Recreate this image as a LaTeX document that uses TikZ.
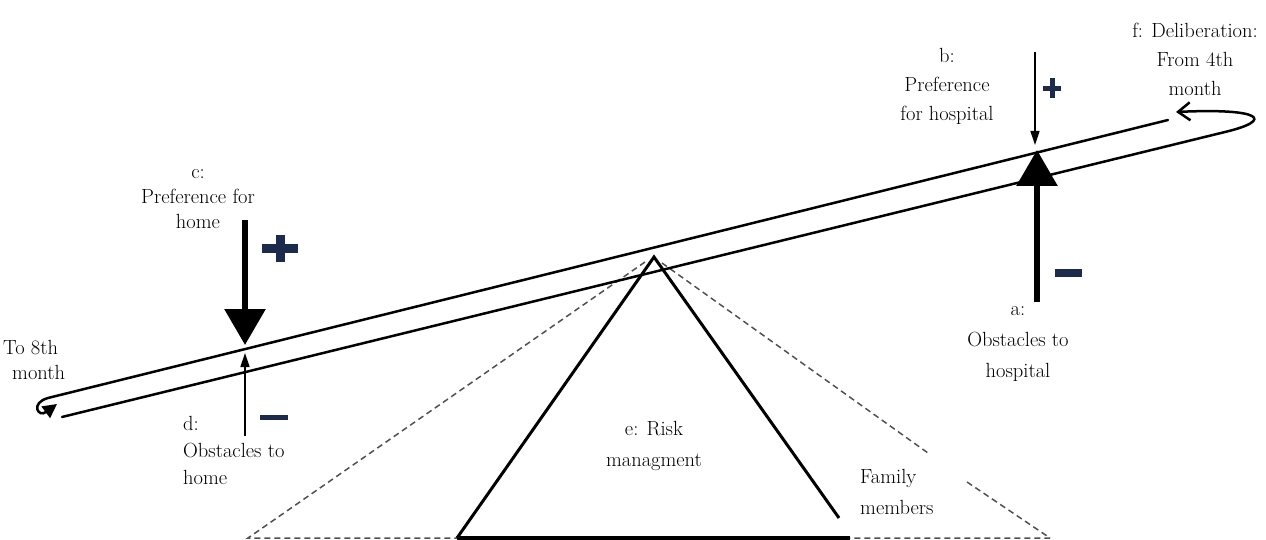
\documentclass[tikz,border=0pt]{standalone}
\usetikzlibrary{arrows.meta}
\definecolor{signblue}{HTML}{1C2B4B}
\definecolor{dashgray}{HTML}{505050}
\tikzset{
  lbl/.style={inner sep=0pt, align=center, font=\fontsize{20.5}{#1}\selectfont},
  lbl/.default=29,
  beam/.style={line width=2.5pt, line cap=round},
  tri/.style={line width=3pt, line join=miter},
  dashedline/.style={dashgray, line width=1.5pt, dash pattern=on 6pt off 4pt},
  bigarrow/.style={line width=6pt, -{Triangle[width=40pt,length=36pt]}},
  thinarrow/.style={line width=1.5pt, -{Triangle[width=9pt,length=14pt]}},
  sign/.style={fill=signblue, draw=none}
}
\begin{document}
\begin{tikzpicture}[x=1pt,y=-1pt]
\useasboundingbox (0,0) rectangle (1266,540);
% support (dashed)
\coordinate (dl) at (248,538);
\coordinate (dr) at (1050,538);
\coordinate (dapl) at (645,262);
\coordinate (dapr) at (662,263);
\draw[dashedline] (dapl) -- (dl) -- (dr);
\draw[dashedline] (dapr) -- (928,453);
\draw[dashedline] (967,482) -- (dr);
% fulcrum
\coordinate (tl) at (457,538);
\coordinate (tap) at (654,257);
\coordinate (tr) at (839,518);
\draw[line width=3.5pt] (tl) -- (850,538);
\draw[tri] (tl) -- (tap) -- (tr);
% beam
\draw[beam, -{Straight Barb[length=12pt,width=18pt]}] (62,417) -- (1225,132)
   .. controls (1275,120) and (1262,108) .. (1176,112);
\draw[beam, -{Triangle[length=14pt,width=14pt]}] (1168,120) -- (48,398)
   .. controls (30,403) and (38,418) .. (57,404);
% forces
\coordinate (cs) at (245,220); \coordinate (ct) at (245,345);
\coordinate (ds) at (245,436); \coordinate (dt) at (245,353);
\coordinate (bs) at (1035,52); \coordinate (bt) at (1035,145);
\coordinate (as) at (1037,302); \coordinate (at) at (1037,150);
\draw[bigarrow] (cs) -- (ct);
\draw[thinarrow] (ds) -- (dt);
\draw[thinarrow] (bs) -- (bt);
\draw[bigarrow] (as) -- (at);
% signs
\fill[sign] (262,244) rectangle (298,253);
\fill[sign] (275.5,235) rectangle (284.5,262);
\fill[sign] (1043,86) rectangle (1061,91);
\fill[sign] (1049.5,78) rectangle (1054.5,98);
\fill[sign] (1055,269) rectangle (1082,277);
\fill[sign] (260,414.5) rectangle (288,419.5);
% labels
\node[lbl=25] (c) at (198,199) {c:\\Preference for\\home};
\node[lbl=29] (b) at (947,86) {b:\\Preference\\for hospital};
\node[lbl=29] (f) at (1195,59) {f: Deliberation:\\From 4th\\month};
\node[lbl=31] (a) at (1018,344) {a:\\Obstacles to\\hospital};
\node[lbl=27, align=left, anchor=west] (d) at (183,450) {d:\\Obstacles to\\home};
\node[lbl=31] (e) at (654,446) {e: Risk\\managment};
\node[lbl=31, align=left, anchor=west] (fam) at (860,492) {Family\\members};
\node[lbl, anchor=west] (to8) at (3,348) {To 8th};
\node[lbl, anchor=west] (to8m) at (12,372) {month};
\end{tikzpicture}
\end{document}
